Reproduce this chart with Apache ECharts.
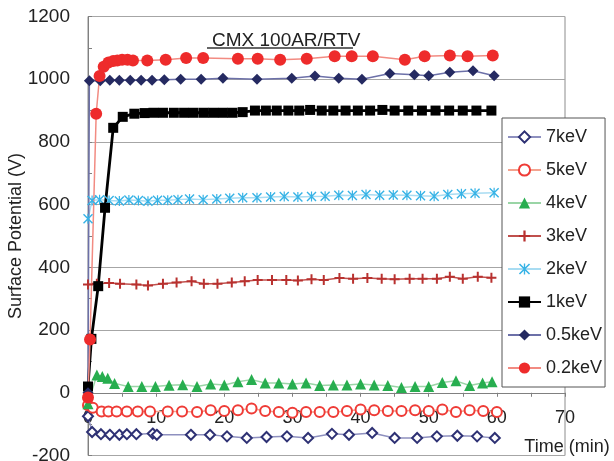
<!DOCTYPE html>
<html><head><meta charset="utf-8">
<script src="https://cdn.jsdelivr.net/npm/echarts@6/dist/echarts.min.js"></script>
<style>html,body{margin:0;padding:0;background:#fff}#c{width:614px;height:461px}</style>
</head><body><div id="c"></div>
<script>
const seriesNames = ['7keV', '5keV', '4keV', '3keV', '2keV', '1keV', '0.5keV', '0.2keV'];
const xTicks = [0, 10, 20, 30, 40, 50, 60, 70];
const yTicks = [-200, 0, 200, 400, 600, 800, 1000, 1200];

const t7 = [0, 0.6, 1.9, 3.2, 4.6, 5.7, 7.1, 9.5, 10.1, 15.1, 17.9, 20.4, 23.3, 26.2, 29.2, 32.3, 35.8, 38.3, 41.7, 45, 48.3, 51.2, 54.2, 57.1, 59.7];
const v7 = [-75, -125, -132, -134, -134, -132, -132, -130, -134, -134, -134, -139, -144, -141, -139, -144, -131, -134, -128, -144, -144, -139, -137, -139, -144];

const t5 = [0, 0.7, 2, 3, 4.2, 5.7, 7.3, 9.1, 11.7, 13.8, 16, 18, 20, 22, 24, 26, 28, 30, 32, 34, 36, 38, 40, 42, 44, 46, 48, 50, 52, 54, 56, 58, 60];
const v5 = [-40, -48, -60, -60, -60, -60, -60, -60, -60, -60, -61, -56, -58, -56, -50, -58, -61, -64, -61, -61, -61, -58, -53, -56, -58, -58, -56, -58, -53, -61, -56, -58, -61];

const t4 = [0, 1.3, 2.1, 2.9, 3.9, 5.9, 7.9, 9.9, 11.9, 13.9, 16, 18, 20, 22, 24, 26, 28, 30, 32, 34, 36, 38, 40, 42, 44, 46, 48, 50, 52, 54, 56, 57.9, 59.3];
const v4 = [-35, 57, 52, 46, 30, 20, 20, 20, 24, 26, 20, 28, 25, 35, 42, 31, 31, 28, 31, 23, 25, 25, 28, 25, 23, 17, 20, 20, 33, 38, 23, 31, 35];

const t3 = [0, 1.3, 3.1, 4.7, 7.1, 8.8, 11, 13, 15.2, 17, 19, 21.1, 23, 24.9, 27, 29.1, 30.8, 32.8, 34.6, 36.9, 38.9, 41, 43.1, 45, 47.2, 49.1, 51.2, 53.1, 55, 57.2, 59.2];
const v3 = [345, 348, 350, 348, 345, 342, 348, 352, 356, 348, 348, 352, 356, 360, 360, 360, 358, 362, 360, 366, 364, 366, 364, 362, 364, 364, 364, 370, 364, 370, 367];

const t2 = [0, 0.6, 1.7, 3.1, 4.6, 6, 7.4, 8.8, 10.2, 11.7, 13.2, 14.9, 16.9, 18.9, 20.8, 22.7, 24.8, 26.8, 28.8, 30.8, 32.8, 34.8, 36.8, 38.8, 40.8, 42.8, 44.8, 46.8, 48.8, 50.8, 52.8, 54.8, 56.8, 59.6];
const v2 = [555, 613, 616, 613, 612, 615, 613, 611, 614, 614, 616, 618, 616, 618, 620, 622, 622, 624, 626, 624, 626, 627, 630, 629, 632, 630, 631, 630, 628, 627, 632, 635, 636, 638];

const t1 = [0, 0.5, 1.5, 2.5, 3.7, 5.1, 6.8, 8.3, 9.6, 11, 12.6, 14.1, 15.5, 17, 18.4, 19.8, 21.2, 22.7, 24.5, 26.1, 27.7, 29.4, 31, 32.6, 34.3, 36, 37.8, 39.6, 41.4, 43.2, 45, 47, 49, 51, 53, 55, 57, 59.2];
const v1 = [20, 172, 340, 590, 845, 880, 890, 892, 893, 893, 893, 893, 893, 893, 893, 893, 893, 895, 900, 900, 900, 900, 900, 902, 900, 900, 900, 900, 900, 902, 900, 900, 900, 900, 900, 900, 900, 900];

const t05 = [0, 0.2, 1.8, 3.2, 4.6, 6.2, 7.8, 9.4, 11.2, 13.6, 16.6, 19.8, 24.8, 29.9, 33.3, 36.8, 40.2, 44.3, 47.9, 50, 53.1, 56.5, 59.6];
const v05 = [0, 995, 995, 997, 997, 997, 997, 997, 998, 1000, 1000, 1003, 1000, 1003, 1010, 1003, 1000, 1018, 1014, 1011, 1022, 1027, 1011];

const t02 = [0, 0.3, 1.2, 1.7, 2.3, 3, 3.7, 4.3, 5, 5.8, 6.6, 8.7, 11.4, 14.4, 16.9, 22, 24.9, 28.2, 32.1, 36.2, 38.7, 41.8, 46.5, 49.4, 53.1, 55.7, 59.4];
const v02 = [-15, 170, 890, 1010, 1040, 1053, 1058, 1060, 1062, 1062, 1060, 1060, 1062, 1068, 1068, 1065, 1065, 1062, 1065, 1073, 1073, 1073, 1062, 1073, 1076, 1073, 1076];

const FONT = "'Liberation Sans', Arial, sans-serif";
const CROSS = 'path://M4,0 H6 V4 H10 V6 H6 V10 H4 V6 H0 V4 H4 Z';
const STAR = 'path://M0,1 L1,0 L10,9 L9,10 Z M9,0 L10,1 L1,10 L0,9 Z M4.4,0 L5.6,0 L5.6,10 L4.4,10 Z';

const GRID_TOP = 16.5, GRID_BOTTOM = 5.5, CHART_H = 461;
// pixel offset of the value-0 line above the grid bottom (keeps the x axis on y = 0)
const plotH = CHART_H - GRID_TOP - GRID_BOTTOM;
const zeroOffset = -plotH * (0 - yTicks[0]) / (yTicks[yTicks.length - 1] - yTicks[0]);

function zip(t, v) { return t.map((x, i) => [x, v[i]]); }

function mk(name, t, v, symbol, size, color, lineColor, lineWidth, borderW) {
  return {
    name: name, type: 'line', data: zip(t, v),
    symbol: symbol, symbolSize: size, showAllSymbol: true,
    lineStyle: { color: lineColor, width: lineWidth },
    itemStyle: { color: color, borderColor: color, borderWidth: borderW },
    emphasis: { disabled: true },
    z: 3
  };
}

const series = [
  mk(seriesNames[0], t7, v7, 'emptyDiamond', 10, '#2e3174', '#8e90bf', 1.5, 1.6),
  mk(seriesNames[1], t5, v5, 'emptyCircle', 10, '#ef3b36', '#f4a38f', 1.5, 1.6),
  mk(seriesNames[2], t4, v4, 'triangle', 11, '#27ae4f', '#9ad5a6', 1.5, 0),
  mk(seriesNames[3], t3, v3, CROSS, 10, '#b8312f', '#c0504d', 1.5, 0),
  mk(seriesNames[4], t2, v2, STAR, 10, '#37b3e6', '#a8dcf2', 1.5, 0),
  mk(seriesNames[5], t1, v1, 'rect', 10, '#000000', '#000000', 2.8, 0),
  mk(seriesNames[6], t05, v05, 'diamond', 11, '#252a61', '#6c70a8', 1.5, 0),
  mk(seriesNames[7], t02, v02, 'circle', 12, '#ee2b2b', '#f28b82', 1.5, 0)
];

const chart = echarts.init(document.getElementById('c'), null, { renderer: 'canvas' });
chart.setOption({
  animation: false,
  backgroundColor: '#ffffff',
  textStyle: { fontFamily: FONT },
  title: {
    text: 'CMX 100AR/RTV', left: 207, top: 26,
    textStyle: { fontSize: 19, fontWeight: 'normal', color: '#222', fontFamily: FONT }
  },
  graphic: [{
    type: 'line', shape: { x1: 207, y1: 48, x2: 353, y2: 48 },
    style: { stroke: '#333', lineWidth: 1.5 }, z: 10
  }],
  grid: { left: 88, right: 49, top: GRID_TOP, bottom: GRID_BOTTOM, show: true, borderColor: '#8c8c8c', borderWidth: 1, backgroundColor: 'transparent', containLabel: false, outerBoundsMode: 'none' },
  legend: {
    orient: 'vertical', left: 502, top: 118,
    data: seriesNames,
    itemWidth: 33, itemHeight: 14, itemGap: 15,
    padding: [10, 3, 10, 5],
    backgroundColor: '#ffffff', borderColor: '#555', borderWidth: 1,
    textStyle: { fontSize: 18, color: '#222', fontFamily: FONT },
    selectedMode: false
  },
  xAxis: {
    type: 'value', min: xTicks[0], max: xTicks[xTicks.length - 1], interval: 10,
    position: 'bottom', offset: zeroOffset,
    name: 'Time (min)', nameLocation: 'end', nameGap: 2,
    nameTextStyle: { fontSize: 18, color: '#222', align: 'center', verticalAlign: 'top', padding: [45, 0, 0, 0], fontFamily: FONT },
    axisLine: { show: true, onZero: false, lineStyle: { color: '#808080', width: 1 } },
    axisTick: { show: true, length: 4, lineStyle: { color: '#808080' } },
    minorTick: { show: true, splitNumber: 2, length: 4, lineStyle: { color: '#808080' } },
    splitLine: { show: false },
    axisLabel: { fontSize: 18, color: '#222', margin: 16, fontFamily: FONT,
      formatter: function (v) { return xTicks.indexOf(v) >= 0 ? String(v) : ''; } }
  },
  yAxis: {
    type: 'value', min: yTicks[0], max: yTicks[yTicks.length - 1], interval: 200,
    name: 'Surface Potential (V)', nameLocation: 'middle', nameGap: 63, nameRotate: 90,
    nameMoveOverlap: false,
    nameTextStyle: { fontSize: 18, color: '#222', fontFamily: FONT },
    axisLine: { show: true, lineStyle: { color: '#808080', width: 1 } },
    axisTick: { show: true, inside: true, length: 4, lineStyle: { color: '#808080' } },
    minorTick: { show: true, splitNumber: 2, length: 4, lineStyle: { color: '#808080' } },
    splitLine: { show: true, lineStyle: { color: '#a6a6a6', width: 1 } },
    axisLabel: { fontSize: 19, color: '#222', margin: 18, fontFamily: FONT,
      formatter: function (v) { return yTicks.indexOf(v) >= 0 ? String(v) : ''; } }
  },
  series: series
});
</script></body></html>
